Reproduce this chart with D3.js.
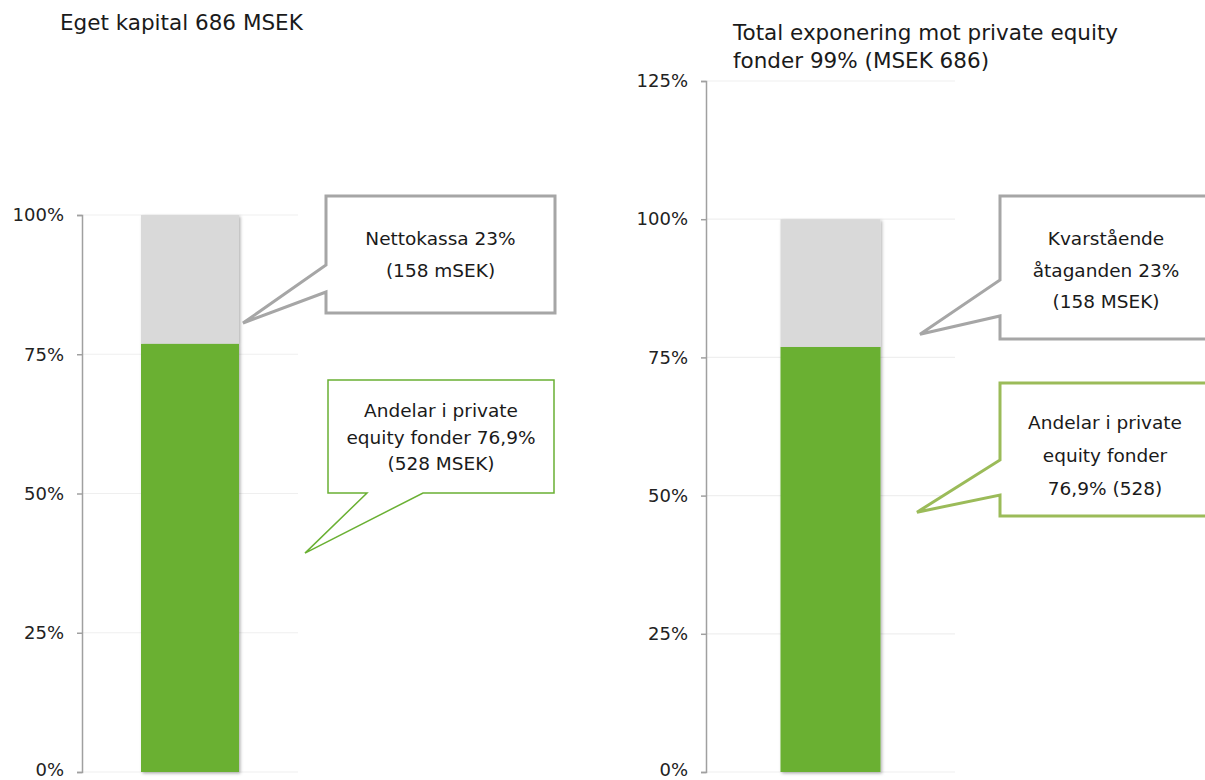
<!DOCTYPE html>
<html><head><meta charset="utf-8">
<script src="https://cdn.jsdelivr.net/npm/d3@7"></script>
<style>
html,body{margin:0;padding:0;background:#fff;}
svg{display:block;font-family:"DejaVu Sans",Verdana,sans-serif;}
</style></head>
<body>
<svg id="chart" width="1205" height="780"></svg>
<script>
// ---- data ----
const leftCategories = ["Eget kapital"];
const leftSeriesNames = ["Andelar i private equity fonder", "Nettokassa"];
const leftValues = [[76.9, 23.1]];
const leftTicks = [0, 25, 50, 75, 100];
const leftTitle = ["Eget kapital 686 MSEK"];

const rightCategories = ["Total exponering"];
const rightSeriesNames = ["Andelar i private equity fonder", "Kvarstående åtaganden"];
const rightValues = [[76.9, 23.1]];
const rightTicks = [0, 25, 50, 75, 100, 125];
const rightTitle = ["Total exponering mot private equity", "fonder 99% (MSEK 686)"];

const leftCallouts = [
  {lines: ["Nettokassa 23%", "(158 mSEK)"], pointAt: 80.6},
  {lines: ["Andelar i private", "equity fonder 76,9%", "(528 MSEK)"], pointAt: 39.3}
];
const rightCallouts = [
  {lines: ["Kvarstående", "åtaganden 23%", "(158 MSEK)"], pointAt: 79.2},
  {lines: ["Andelar i private", "equity fonder", "76,9% (528)"], pointAt: 47}
];

const segColors = ["#6ab033", "#d9d9d9"];

const svg = d3.select("#chart");
const defs = svg.append("defs");
const f = defs.append("filter").attr("id","shadow").attr("x","-20%").attr("y","-5%").attr("width","140%").attr("height","110%");
f.append("feDropShadow").attr("dx",1.5).attr("dy",1.5).attr("stdDeviation",1.5).attr("flood-color","#000").attr("flood-opacity",0.3);

function panel(cfg){
  const y = d3.scaleLinear().domain([0, d3.max(cfg.ticks)]).range([772, cfg.top]);
  const x = d3.scaleBand().domain(cfg.categories).range([cfg.axisX, cfg.gridEnd]).paddingInner(0).paddingOuter(cfg.pad);
  const g = svg.append("g");
  // gridlines
  g.selectAll("line.grid").data(cfg.ticks).join("line")
    .attr("x1", cfg.axisX).attr("x2", cfg.gridEnd)
    .attr("y1", d=>y(d)).attr("y2", d=>y(d))
    .attr("stroke", "#efefef").attr("stroke-width", 1.2);
  // axis
  const ax = g.append("g").attr("transform", `translate(${cfg.axisX},0)`)
    .call(d3.axisLeft(y).tickValues(cfg.ticks).tickFormat(d=>d+"%").tickSize(5).tickSizeOuter(5).tickPadding(13));
  ax.select(".domain").attr("stroke","#a0a0a0").attr("stroke-width",1.5);
  ax.selectAll(".tick line").attr("stroke","#a0a0a0").attr("stroke-width",1.5);
  ax.selectAll(".tick text").attr("font-size","18px").attr("fill","#222").attr("font-family","DejaVu Sans, Verdana, sans-serif")
    .attr("dy", d => d === 0 ? "0.2em" : "0.32em");
  // stacked bars
  cfg.categories.forEach((c, i) => {
    let acc = 0;
    const segs = cfg.values[i].map((v, k) => { const s = {k, y0: acc, y1: acc + v}; acc += v; return s; });
    const bg = g.append("g").attr("filter","url(#shadow)");
    bg.selectAll("rect").data(segs).join("rect")
      .attr("x", x(c)).attr("width", x.bandwidth())
      .attr("y", d=>y(d.y1)).attr("height", d=>y(d.y0)-y(d.y1))
      .attr("fill", d=>segColors[d.k]);
  });
  // title
  const t = g.append("text").attr("x", cfg.titleX).attr("y", cfg.titleY)
    .attr("font-size","21.5px").attr("fill","#1a1a1a");
  cfg.title.forEach((l, i) => t.append("tspan").attr("x", cfg.titleX).attr("dy", i ? 28 : 0).text(l));
  // callouts
  cfg.callouts.forEach((co, i) => {
    const b = cfg.boxes[i];
    const tipY = y(co.pointAt);
    let p;
    if (b.side === "left") {
      p = `M${b.x0},${b.y0}H${b.x1}V${b.y1}H${b.x0}V${b.a2}L${b.tipX},${tipY}L${b.x0},${b.a1}Z`;
    } else {
      p = `M${b.x0},${b.y0}H${b.x1}V${b.y1}H${b.a2}L${b.tipX},${tipY}L${b.a1},${b.y1}H${b.x0}Z`;
    }
    g.append("path").attr("d", p).attr("fill","#fff").attr("stroke", b.stroke)
      .attr("stroke-width", b.sw).attr("stroke-linejoin","miter");
    const tx = g.append("text").attr("text-anchor","middle").attr("font-size","18.5px").attr("fill","#1a1a1a");
    co.lines.forEach((l, j) => tx.append("tspan").attr("x", b.cx).attr("y", b.base + j*b.lh).text(l));
  });
}

panel({
  categories: leftCategories, values: leftValues, ticks: leftTicks, title: leftTitle,
  top: 215, axisX: 82, gridEnd: 298, pad: 0.602, titleX: 60, titleY: 30,
  callouts: leftCallouts,
  boxes: [
    {side:"left", x0:326, x1:555, y0:196, y1:313, a1:265, a2:292, tipX:243, stroke:"#a6a6a6", sw:3, cx:440.5, base:245, lh:32},
    {side:"bottom", x0:328, x1:554, y0:380, y1:493, a1:367, a2:423, tipX:305, stroke:"#6ab033", sw:1.5, cx:441, base:417, lh:26.5}
  ]
});
panel({
  categories: rightCategories, values: rightValues, ticks: rightTicks, title: rightTitle,
  top: 81, axisX: 706, gridEnd: 955, pad: 0.745, titleX: 733, titleY: 40,
  callouts: rightCallouts,
  boxes: [
    {side:"left", x0:1000, x1:1212, y0:196, y1:339, a1:280, a2:316, tipX:920, stroke:"#a6a6a6", sw:3, cx:1106, base:245, lh:31.5},
    {side:"left", x0:1000, x1:1212, y0:383, y1:516, a1:460, a2:495, tipX:917, stroke:"#9bbb59", sw:3, cx:1105, base:429, lh:33}
  ]
});
</script>
</body></html>
